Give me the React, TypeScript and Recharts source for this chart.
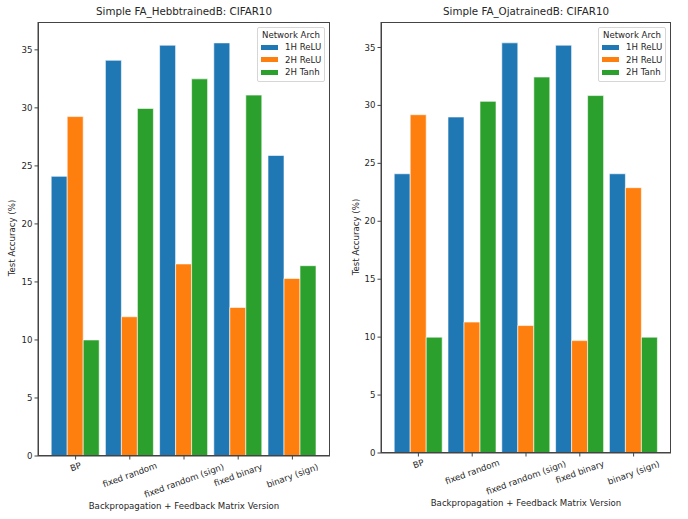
import React from 'react';
import { BarChart, Bar, XAxis, YAxis } from 'recharts';

// categories on the x axis
const versions = ['BP', 'fixed random', 'fixed random (sign)', 'fixed binary', 'binary (sign)'];
const yTicks = [0, 5, 10, 15, 20, 25, 30, 35];

// Hebb-trained B
const hebbRelu1 = [24.1, 34.1, 35.4, 35.6, 25.9];
const hebbRelu2 = [29.25, 12.0, 16.55, 12.8, 15.3];
const hebbTanh2 = [10.0, 29.95, 32.5, 31.1, 16.4];

// Oja-trained B
const ojaRelu1 = [24.1, 29.0, 35.4, 35.2, 24.1];
const ojaRelu2 = [29.2, 11.3, 11.0, 9.7, 22.9];
const ojaTanh2 = [10.0, 30.35, 32.45, 30.85, 10.0];

const seriesNames = ['1H ReLU', '2H ReLU', '2H Tanh'];
const colors = ['#1f77b4', '#ff7f0e', '#2ca02c'];

const FONT = '"DejaVu Sans", sans-serif';
const TXT = '#262626';
const FS = 8.6;

const buildRows = (a: number[], b: number[], c: number[]) =>
  versions.map((v, i) => ({ version: v, relu1: a[i], relu2: b[i], tanh2: c[i] }));

const XTick = (props: any) => {
  const { x, y, payload } = props;
  const label: string = payload.value;
  const w = label.length * 4.75;
  const rad = (20 * Math.PI) / 180;
  const h = w * Math.sin(rad) + FS * 1.15 * Math.cos(rad);
  return (
    <text
      transform={`translate(${x},${y + h / 2 - 2}) rotate(-20)`}
      textAnchor="middle"
      dominantBaseline="central"
      fontSize={FS}
      fontFamily={FONT}
      fill={TXT}
    >
      {label}
    </text>
  );
};

interface PanelProps {
  title: string;
  rows: any[];
  left: number;
  margin: { top: number; right: number; left: number; bottom: number };
  yMax: number;
}

const Panel: React.FC<PanelProps> = ({ title, rows, left, margin, yMax }) => {
  const W = 344;
  const H = 519;
  const yW = 30;
  const xH = 40;
  const plotL = margin.left + yW;
  const plotR = W - margin.right;
  const plotT = margin.top;
  const plotB = H - margin.bottom - xH;
  const cx = (plotL + plotR) / 2;

  return (
    <div style={{ position: 'absolute', left, top: 0, width: W, height: H, fontFamily: FONT }}>
      <BarChart width={W} height={H} data={rows} margin={margin} barCategoryGap={2.7} barGap={0}>
        <XAxis
          dataKey="version"
          height={xH}
          padding={{ left: 10.5, right: 10.5 }}
          tickSize={3.5}
          tickMargin={3}
          tick={<XTick />}
          interval={0}
          stroke="#444"
          tickLine={{ stroke: '#444' }}
        />
        <YAxis
          width={yW}
          domain={[0, yMax]}
          ticks={yTicks}
          type="number"
          allowDataOverflow
          tickSize={3.5}
          tickMargin={2}
          stroke="#444"
          tick={{ fontSize: FS, fill: TXT, fontFamily: FONT }}
        />
        <Bar dataKey="relu1" name={seriesNames[0]} fill={colors[0]} stroke="#fff" strokeWidth={0.6} isAnimationActive={false} />
        <Bar dataKey="relu2" name={seriesNames[1]} fill={colors[1]} stroke="#fff" strokeWidth={0.6} isAnimationActive={false} />
        <Bar dataKey="tanh2" name={seriesNames[2]} fill={colors[2]} stroke="#fff" strokeWidth={0.6} isAnimationActive={false} />
      </BarChart>

      {/* axes frame */}
      <div
        style={{
          position: 'absolute',
          left: plotL,
          top: plotT,
          width: plotR - plotL,
          height: plotB - plotT,
          border: '1px solid #444',
          boxSizing: 'border-box',
          pointerEvents: 'none',
        }}
      />

      {/* title */}
      <div
        style={{
          position: 'absolute',
          left: 0,
          width: W,
          top: 5,
          textAlign: 'center',
          fontSize: 10.3,
          color: TXT,
          paddingLeft: cx * 2 - W,
          boxSizing: 'border-box',
        }}
      >
        {title}
      </div>

      {/* y label */}
      <div
        style={{
          position: 'absolute',
          left: 12 - 60,
          top: (plotT + plotB) / 2 - 6,
          width: 120,
          textAlign: 'center',
          fontSize: FS,
          color: TXT,
          transform: 'rotate(-90deg)',
        }}
      >
        Test Accuracy (%)
      </div>

      {/* x label */}
      <div
        style={{
          position: 'absolute',
          left: cx - 120,
          width: 240,
          top: H - margin.bottom + 5,
          textAlign: 'center',
          fontSize: FS,
          color: TXT,
        }}
      >
        Backpropagation + Feedback Matrix Version
      </div>

      {/* legend */}
      <div
        style={{
          position: 'absolute',
          left: plotR - 73,
          top: plotT + 5,
          width: 68,
          height: 55,
          border: '1px solid #d6d6d6',
          borderRadius: 2,
          background: 'rgba(255,255,255,0.8)',
          boxSizing: 'border-box',
          fontSize: FS,
          color: TXT,
        }}
      >
        <div style={{ textAlign: 'center', marginTop: 2, lineHeight: '11px' }}>Network Arch</div>
        {seriesNames.map((n, i) => (
          <div key={n} style={{ display: 'flex', alignItems: 'center', height: 12.6, marginLeft: 3 }}>
            <span style={{ display: 'inline-block', width: 17, height: 5, background: colors[i], marginRight: 7 }} />
            <span>{n}</span>
          </div>
        ))}
      </div>
    </div>
  );
};

export default function App() {
  return (
    <div style={{ position: 'absolute', left: 0, top: 0, width: 688, height: 519, background: '#fff' }}>
      <Panel
        title="Simple FA_HebbtrainedB: CIFAR10"
        rows={buildRows(hebbRelu1, hebbRelu2, hebbTanh2)}
        left={0}
        margin={{ top: 22, right: 14, left: 8, bottom: 23 }}
        yMax={37.4}
      />
      <Panel
        title="Simple FA_OjatrainedB: CIFAR10"
        rows={buildRows(ojaRelu1, ojaRelu2, ojaTanh2)}
        left={344}
        margin={{ top: 22, right: 17, left: 7, bottom: 26 }}
        yMax={37.2}
      />
    </div>
  );
}
